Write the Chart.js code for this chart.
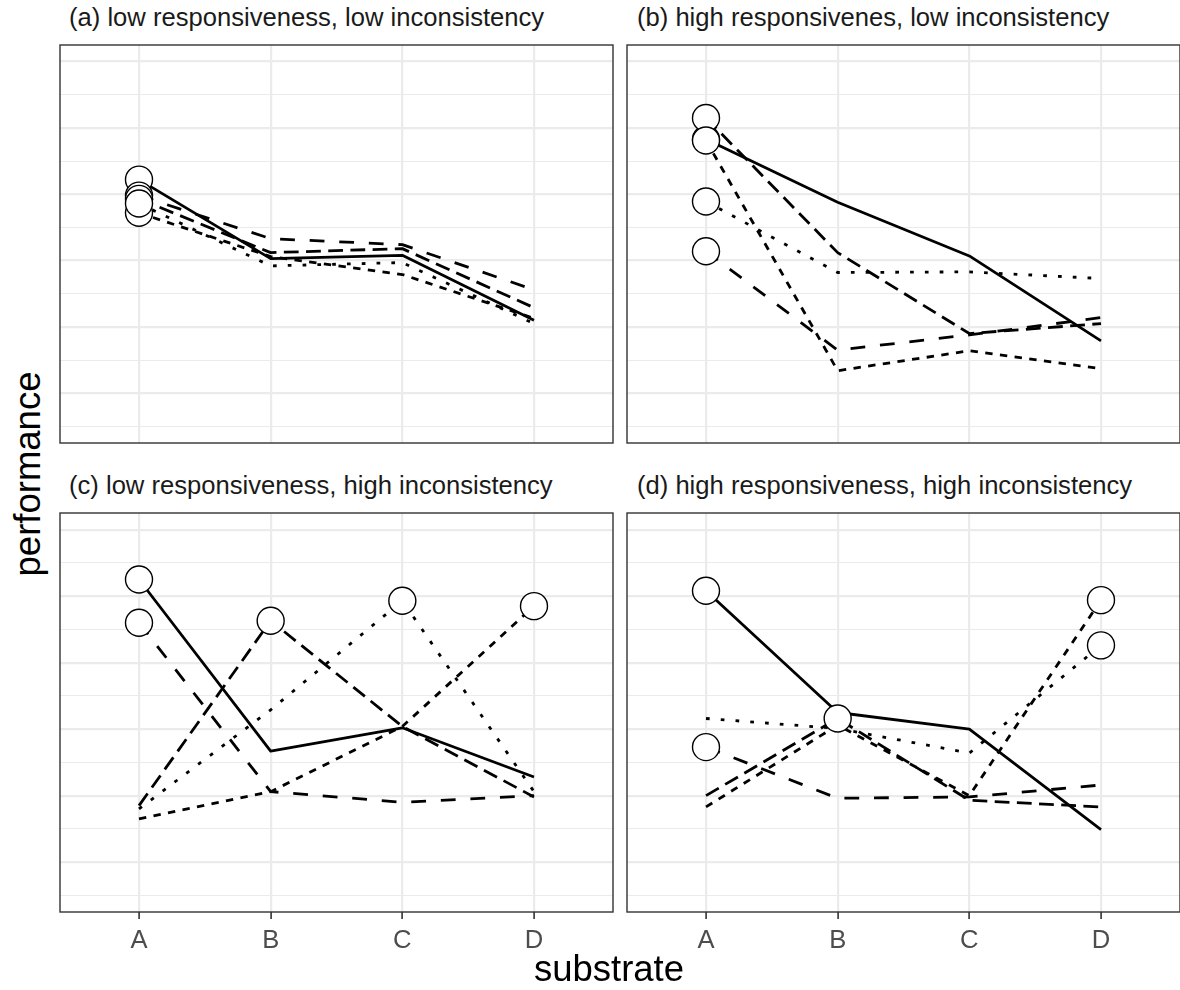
<!DOCTYPE html>
<html>
<head>
<meta charset="utf-8">
<script src="https://cdn.jsdelivr.net/npm/chart.js@4.4.0/dist/chart.umd.min.js"></script>
<style>
  body { margin: 0; width: 1180px; height: 990px; background: #fff; position: relative; overflow: hidden;
         font-family: "Liberation Sans", Arial, sans-serif; }
  canvas { position: absolute; }
  .strip { position: absolute; font-size: 25.6px; line-height: 1; color: #1a1a1a; white-space: nowrap; }
  .axis-title { position: absolute; font-size: 36.5px; line-height: 1; color: #000; white-space: nowrap;
                transform: translate(-50%, -50%); }
</style>
</head>
<body>
<canvas id="pa"></canvas>
<canvas id="pb"></canvas>
<canvas id="pc"></canvas>
<canvas id="pd"></canvas>
<div class="strip" id="ta" style="left:69px; top:5px"></div>
<div class="strip" id="tb" style="left:637px; top:5px"></div>
<div class="strip" id="tc" style="left:69px; top:473px"></div>
<div class="strip" id="td" style="left:637px; top:473px"></div>
<div class="axis-title" style="left:28px; top:474px; transform: translate(-50%, -50%) rotate(-90deg)">performance</div>
<div class="axis-title" style="left:609px; top:969px">substrate</div>

<script>
// --- data ---
const substrates = ['A', 'B', 'C', 'D'];
const panelTitles = [
  '(a) low responsiveness, low inconsistency',
  '(b) high responsivenes, low inconsistency',
  '(c) low responsiveness, high inconsistency',
  '(d) high responsiveness, high inconsistency'
];
const gridValues = [-0.5, 0, 0.5, 1, 1.5, 2, 2.5, 3, 3.5, 4, 4.5, 5];
const yMin = -0.75, yMax = 5.25;

// one row per genotype: solid, long dash, medium dash, short dash, dotted
const panelA = [
  [3.22, 2.03, 2.08, 1.10],
  [2.98, 2.33, 2.24, 1.56],
  [2.93, 2.12, 2.18, 1.29],
  [2.72, 2.06, 1.79, 1.13],
  [2.86, 1.92, 1.97, 1.05]
];
const panelB = [
  [3.83, 2.88, 2.07, 0.79],
  [2.14, 0.65, 0.88, 1.14],
  [4.15, 2.12, 0.90, 1.05],
  [3.81, 0.34, 0.64, 0.37],
  [2.89, 1.82, 1.83, 1.73]
];
const panelC = [
  [4.25, 1.67, 2.02, 1.28],
  [3.60, 1.06, 0.90, 1.00],
  [0.85, 3.63, 2.04, 0.98],
  [0.65, 1.06, 2.04, 3.85],
  [0.80, 2.29, 3.93, 1.06]
];
const panelD = [
  [4.08, 2.25, 2.00, 0.49],
  [1.73, 0.96, 0.98, 1.16],
  [1.00, 2.16, 0.93, 0.83],
  [0.83, 2.06, 1.00, 3.94],
  [2.16, 2.01, 1.64, 3.26]
];

// --- styles ---
const FONT = '"Liberation Sans", Arial, sans-serif';
const u = 3.7;
const dashes = [[], [4 * u, 4 * u], [4 * u, 2 * u], [2 * u, 2 * u], [1 * u, 3 * u]];
const PAD = 2, AXIS_H = 60;

// panel frame (ggplot border)
const frame = {
  id: 'frame',
  afterDraw(chart) {
    const { ctx, chartArea: a } = chart;
    ctx.save();
    ctx.strokeStyle = '#333333';
    ctx.lineWidth = 1.4;
    ctx.strokeRect(a.left, a.top, a.right - a.left, a.bottom - a.top);
    ctx.restore();
  }
};

function makePanel(id, values, box, withAxis) {
  const cv = document.getElementById(id);
  const w = box.w + 2 * PAD;
  const h = box.h + PAD + (withAxis ? AXIS_H : PAD);
  cv.width = w; cv.height = h;
  cv.style.left = (box.left - PAD) + 'px';
  cv.style.top = (box.top - PAD) + 'px';
  cv.style.width = w + 'px';
  cv.style.height = h + 'px';

  const lines = values.map((vals, g) => ({
    data: vals.map((v, i) => ({ x: i, y: v })),
    borderColor: '#000',
    borderWidth: 2.8,
    borderDash: dashes[g],
    borderCapStyle: 'butt',
    borderJoinStyle: 'round',
    pointRadius: 0,
    tension: 0,
    fill: false
  }));

  // open circle at each genotype's best substrate
  const best = values.map(vals => {
    const m = Math.max(...vals);
    return { x: vals.indexOf(m), y: m };
  });

  const circles = {
    data: best,
    showLine: false,
    pointRadius: 13.5,
    pointBackgroundColor: '#fff',
    pointBorderColor: '#000',
    pointBorderWidth: 1.4,
    order: -1
  };

  new Chart(cv, {
    type: 'line',
    data: { datasets: [circles, ...lines] },
    options: {
      responsive: false,
      animation: false,
      layout: { autoPadding: false, padding: { left: PAD, right: PAD, top: PAD, bottom: withAxis ? 0 : PAD } },
      plugins: { legend: { display: false }, tooltip: { enabled: false } },
      scales: {
        x: {
          type: 'linear', min: -0.6, max: 3.6,
          afterBuildTicks: s => { s.ticks = substrates.map((_, i) => ({ value: i })); },
          afterFit: s => { s.height = withAxis ? AXIS_H : 0; },
          grid: { color: '#ebebeb', lineWidth: 2.2, drawTicks: withAxis, tickLength: 7,
                  tickColor: '#333333', tickWidth: 1.6 },
          border: { display: false },
          ticks: { display: withAxis, callback: v => substrates[v], color: '#4d4d4d',
                   font: { size: 25.6, family: FONT }, padding: 7, maxRotation: 0, autoSkip: false }
        },
        y: {
          type: 'linear', min: yMin, max: yMax,
          afterBuildTicks: s => { s.ticks = gridValues.map(v => ({ value: v })); },
          afterFit: s => { s.width = 0; },
          grid: { color: '#ebebeb', drawTicks: false,
                  lineWidth: c => (c.tick && Number.isInteger(c.tick.value)) ? 2.2 : 1.1 },
          border: { display: false },
          ticks: { display: false }
        }
      }
    },
    plugins: [frame]
  });
}

['ta', 'tb', 'tc', 'td'].forEach((id, i) => { document.getElementById(id).textContent = panelTitles[i]; });

makePanel('pa', panelA, { left: 60, top: 45, w: 553, h: 398 }, false);
makePanel('pb', panelB, { left: 627, top: 45, w: 553, h: 398 }, false);
makePanel('pc', panelC, { left: 60, top: 513, w: 553, h: 399 }, true);
makePanel('pd', panelD, { left: 627, top: 513, w: 553, h: 399 }, true);
</script>
</body>
</html>
